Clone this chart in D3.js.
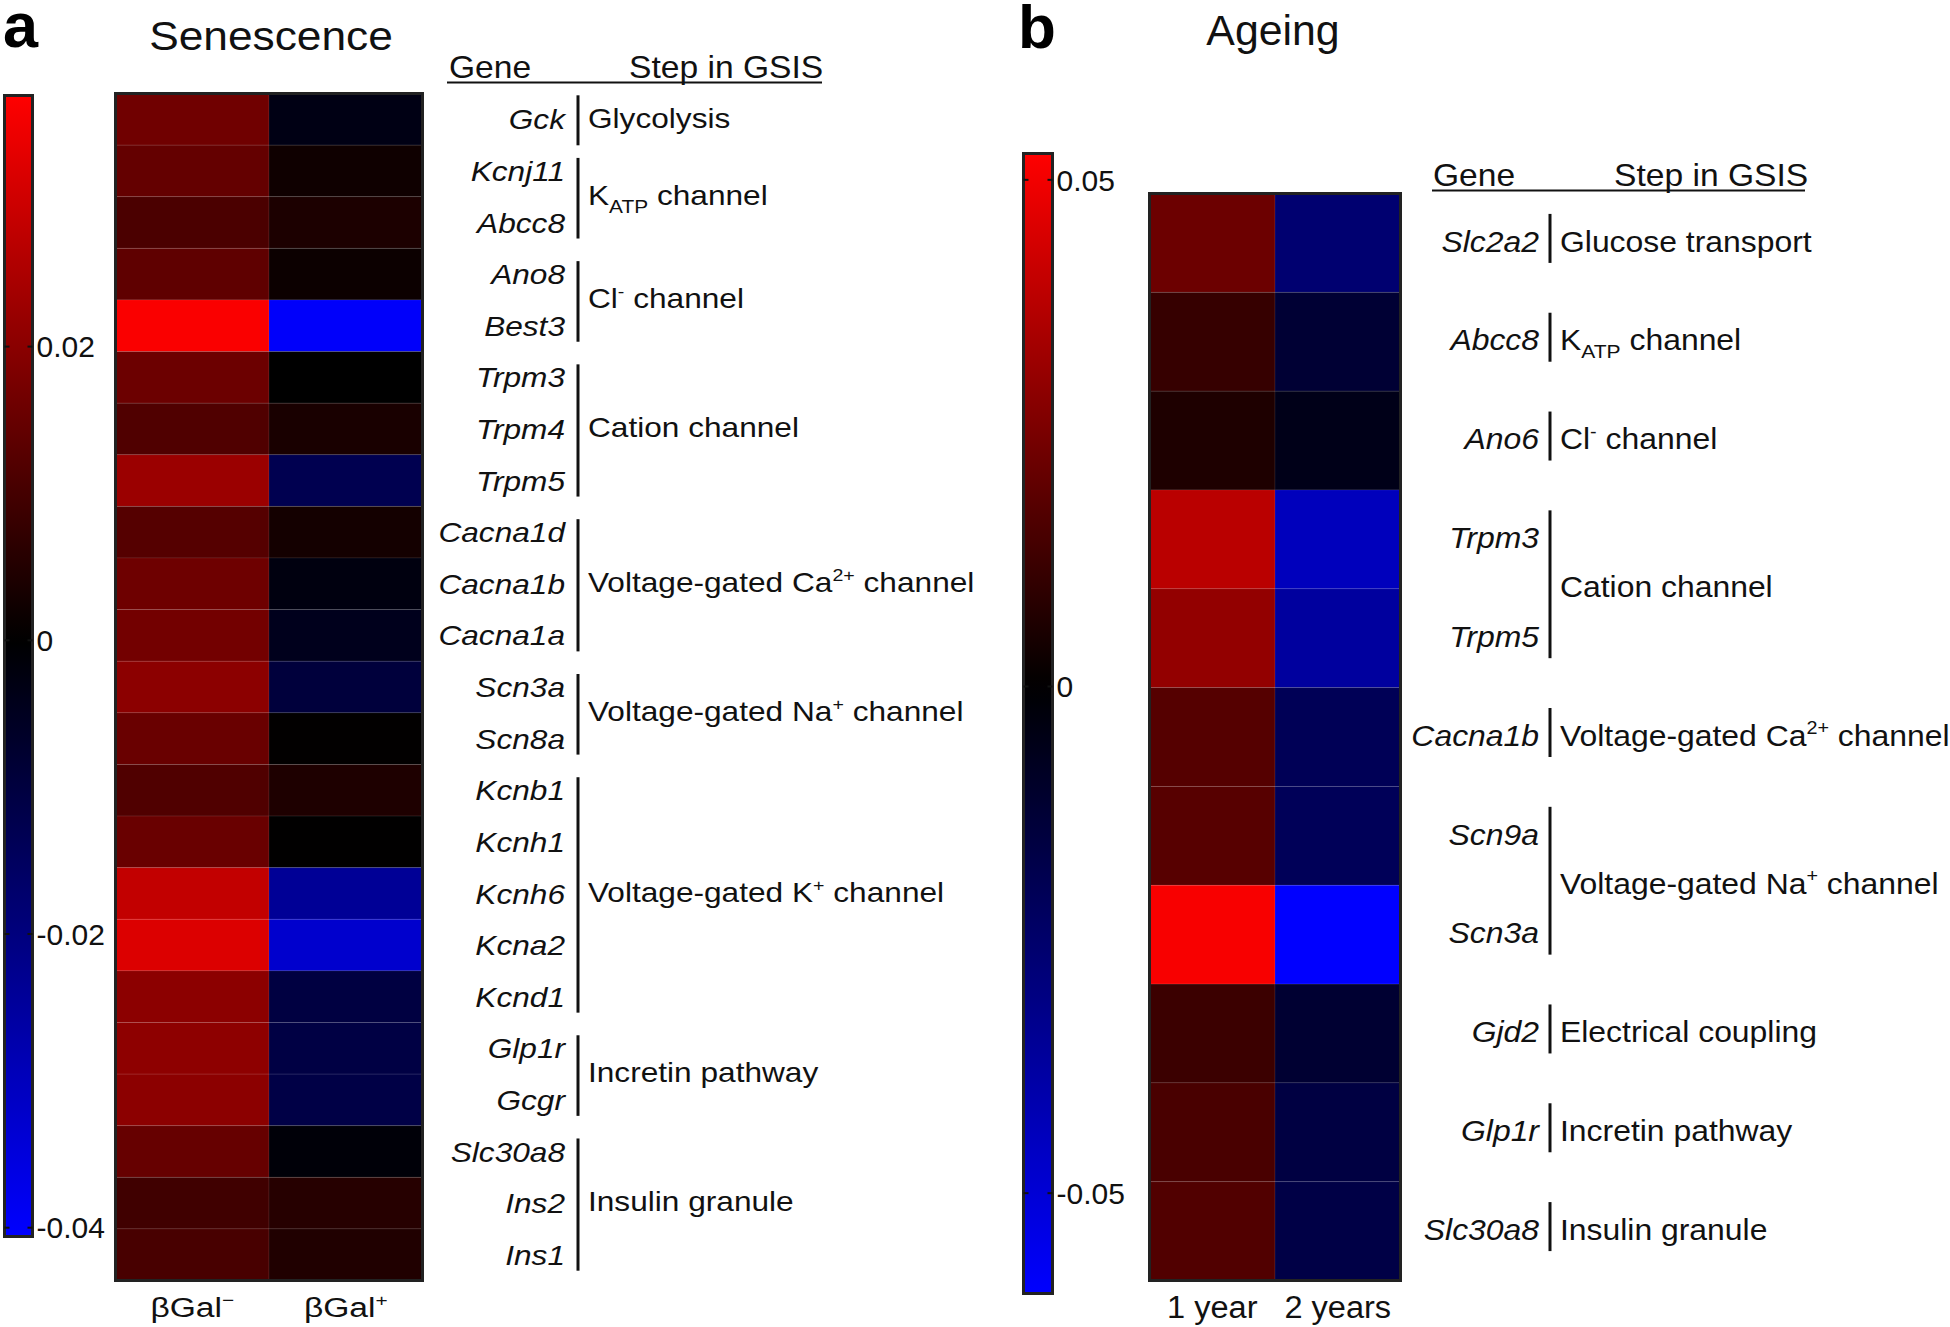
<!DOCTYPE html>
<html><head><meta charset="utf-8">
<script src="https://cdn.jsdelivr.net/npm/d3@7"></script>
<style>
html,body{margin:0;padding:0;background:#fff;}
svg{display:block;font-family:"Liberation Sans",Arial,Helvetica,sans-serif;}
text{white-space:pre;}
</style></head><body>
<svg id="chart" width="1950" height="1327"></svg>
<script>
// ================= DATA: panel a (Senescence) =================
const senGenes = ["Gck","Kcnj11","Abcc8","Ano8","Best3","Trpm3","Trpm4","Trpm5",
  "Cacna1d","Cacna1b","Cacna1a","Scn3a","Scn8a","Kcnb1","Kcnh1","Kcnh6","Kcna2",
  "Kcnd1","Glp1r","Gcgr","Slc30a8","Ins2","Ins1"];
const senColumns = ["βGal^{−}","βGal^{+}"];
const senGalNeg = [0.0163,0.0145,0.0109,0.0138,0.0364,0.0157,0.0116,0.0225,
  0.0124,0.0160,0.0167,0.0204,0.0153,0.0116,0.0153,0.0282,0.0320,
  0.0204,0.0207,0.0204,0.0148,0.0093,0.0105];
const senGalPos = [-0.0032,0.0022,0.0041,0.0017,-0.0398,0.0000,0.0036,-0.0127,
  0.0029,-0.0024,-0.0045,-0.0096,0.0003,0.0044,0.0002,-0.0239,-0.0326,
  -0.0103,-0.0108,-0.0111,-0.0013,0.0055,0.0047];
const senSteps = ["Glycolysis","K_{ATP} channel","Cl^{-} channel","Cation channel",
  "Voltage-gated Ca^{2+} channel","Voltage-gated Na^{+} channel",
  "Voltage-gated K^{+} channel","Incretin pathway","Insulin granule"];
const senStepGenes = [["Gck"],["Kcnj11","Abcc8"],["Ano8","Best3"],["Trpm3","Trpm4","Trpm5"],
  ["Cacna1d","Cacna1b","Cacna1a"],["Scn3a","Scn8a"],["Kcnb1","Kcnh1","Kcnh6","Kcna2","Kcnd1"],
  ["Glp1r","Gcgr"],["Slc30a8","Ins2","Ins1"]];
const senTicks = [0.02, 0, -0.02, -0.04];
const senTickLabels = ["0.02","0","-0.02","-0.04"];
const senExtent = [-0.0406, 0.0371];

// ================= DATA: panel b (Ageing) =================
const ageGenes = ["Slc2a2","Abcc8","Ano6","Trpm3","Trpm5","Cacna1b","Scn9a","Scn3a",
  "Gjd2","Glp1r","Slc30a8"];
const ageColumns = ["1 year","2 years"];
const age1Year = [0.0223,0.0111,0.0062,0.0384,0.0303,0.0175,0.0179,0.0512,0.0122,0.0151,0.0167];
const age2Years = [-0.0263,-0.0122,-0.0056,-0.0442,-0.0371,-0.0202,-0.0207,-0.0599,-0.0117,-0.0155,-0.0164];
const ageSteps = ["Glucose transport","K_{ATP} channel","Cl^{-} channel","Cation channel",
  "Voltage-gated Ca^{2+} channel","Voltage-gated Na^{+} channel","Electrical coupling",
  "Incretin pathway","Insulin granule"];
const ageStepGenes = [["Slc2a2"],["Abcc8"],["Ano6"],["Trpm3","Trpm5"],["Cacna1b"],
  ["Scn9a","Scn3a"],["Gjd2"],["Glp1r"],["Slc30a8"]];
const ageTicks = [0.05, 0, -0.05];
const ageTickLabels = ["0.05","0","-0.05"];
const ageExtent = [-0.0599, 0.0526];

// ================= helpers =================
const svg = d3.select("#chart");
const defs = svg.append("defs");

function richText(sel, str, fs) {
  const parts = str.split(/(\^\{[^}]*\}|_\{[^}]*\})/g).filter(s => s.length);
  let shift = 0;
  parts.forEach(p => {
    let kind = null, t = p;
    if (p.startsWith("^{")) { kind = "sup"; t = p.slice(2, -1); }
    else if (p.startsWith("_{")) { kind = "sub"; t = p.slice(2, -1); }
    const target = kind === "sup" ? -0.4 * fs : kind === "sub" ? 0.27 * fs : 0;
    const ts = sel.append("tspan").text(t).attr("dy", target - shift);
    if (kind) ts.attr("font-size", (kind === "sup" ? 0.62 : 0.66) * fs);
    shift = target;
  });
}

// text horizontally stretched by sx (the reference's labels are slightly wide)
function stretched(x, y, fs, anchor, sx) {
  return svg.append("text").attr("transform", `translate(${x},${y}) scale(${sx},1)`)
    .attr("text-anchor", anchor).attr("font-size", fs).attr("fill", "#111");
}

function makeColor(ext) {
  return d3.scaleLinear().domain([ext[0], 0, ext[1]])
    .range(["#0000ff", "#000000", "#ff0000"]).clamp(true);
}

function colorbar(id, x0, x1, y0, y1, ext, ticks, labels, color) {
  const grad = defs.append("linearGradient").attr("id", id)
    .attr("x1", 0).attr("y1", 1).attr("x2", 0).attr("y2", 0);
  d3.range(0, 1.0001, 0.02).forEach(t => {
    const v = ext[0] + t * (ext[1] - ext[0]);
    grad.append("stop").attr("offset", t).attr("stop-color", color(v));
  });
  const yS = d3.scaleLinear().domain(ext).range([y1, y0]);
  svg.append("rect").attr("x", x0).attr("y", y0).attr("width", x1 - x0).attr("height", y1 - y0)
    .attr("fill", `url(#${id})`).attr("stroke", "#222").attr("stroke-width", 3);
  const g = svg.append("g");
  ticks.forEach((t, i) => {
    const y = yS(t);
    g.append("line").attr("x1", x0).attr("x2", x0 + 5).attr("y1", y).attr("y2", y)
      .attr("stroke", "#111").attr("stroke-width", 2);
    g.append("line").attr("x1", x1 - 5).attr("x2", x1).attr("y1", y).attr("y2", y)
      .attr("stroke", "#111").attr("stroke-width", 2);
    g.append("text").attr("x", x1 + 4).attr("y", y).attr("dy", "0.36em")
      .attr("font-size", 30).attr("fill", "#111").text(labels[i]);
  });
}

function heatmap(genes, cols, series, x0, x1, y0, y1, color) {
  const yB = d3.scaleBand().domain(genes).range([y0, y1]);
  const xB = d3.scaleBand().domain(cols).range([x0, x1]);
  const g = svg.append("g");
  cols.forEach((c, ci) => {
    g.selectAll(null).data(genes).join("rect")
      .attr("x", xB(c)).attr("y", d => yB(d))
      .attr("width", xB.bandwidth()).attr("height", yB.bandwidth())
      .attr("fill", (d, i) => color(series[ci][i]))
      .attr("stroke", "rgba(255,255,255,0.07)").attr("stroke-width", 1);
  });
  g.append("rect").attr("x", x0).attr("y", y0).attr("width", x1 - x0).attr("height", y1 - y0)
    .attr("fill", "none").attr("stroke", "#222").attr("stroke-width", 3);
  return { yB, xB };
}

// ================= panel a =================
svg.append("text").attr("x", 3).attr("y", 47).attr("font-size", 63).attr("font-weight", "bold")
  .attr("fill", "#000").text("a");
stretched(271, 50, 41, "middle", 1.08).text("Senescence");

const senColor = makeColor(senExtent);
colorbar("gradA", 4.5, 32.5, 95.5, 1236.5, senExtent, senTicks, senTickLabels, senColor);
const hmA = heatmap(senGenes, senColumns, [senGalNeg, senGalPos], 115.5, 422.5, 93.5, 1280.5, senColor);

senColumns.forEach(c => {
  const t = stretched(hmA.xB(c) + hmA.xB.bandwidth() / 2, 1317, 28, "middle", 1.2);
  richText(t, c, 28);
});

// table header a
stretched(449, 78, 32, "start", 1.05).text("Gene");
stretched(629, 78, 32, "start", 1.05).text("Step in GSIS");
svg.append("line").attr("x1", 447).attr("x2", 822).attr("y1", 82.5).attr("y2", 82.5)
  .attr("stroke", "#111").attr("stroke-width", 2);

const aFs = 28, aSx = 1.13;
const rowA = g => hmA.yB(g) + hmA.yB.bandwidth() / 2;
senGenes.forEach(gname => {
  stretched(565, rowA(gname) + 0.36 * aFs, aFs, "end", aSx).attr("font-style", "italic").text(gname);
});
senSteps.forEach((s, i) => {
  const gs = senStepGenes[i];
  const top = rowA(gs[0]), bot = rowA(gs[gs.length - 1]);
  const single = gs.length === 1;
  svg.append("line").attr("x1", 578).attr("x2", 578)
    .attr("y1", top - (single ? 24 : 13)).attr("y2", bot + (single ? 26 : 16))
    .attr("stroke", "#111").attr("stroke-width", 3);
  const t = stretched(588, (top + bot) / 2 + 0.3 * aFs, aFs, "start", aSx);
  richText(t, s, aFs);
});

// ================= panel b =================
svg.append("text").attr("x", 1018).attr("y", 48).attr("font-size", 62).attr("font-weight", "bold")
  .attr("fill", "#000").text("b");
stretched(1273, 45, 42, "middle", 1.02).text("Ageing");

const ageColor = makeColor(ageExtent);
colorbar("gradB", 1023.5, 1052.5, 153.5, 1293.5, ageExtent, ageTicks, ageTickLabels, ageColor);
const hmB = heatmap(ageGenes, ageColumns, [age1Year, age2Years], 1149.5, 1400.5, 193.5, 1280.5, ageColor);

ageColumns.forEach(c => {
  stretched(hmB.xB(c) + hmB.xB.bandwidth() / 2, 1318, 31, "middle", 1.05).text(c);
});

// table header b
stretched(1433, 186, 32, "start", 1.05).text("Gene");
stretched(1614, 186, 32, "start", 1.05).text("Step in GSIS");
svg.append("line").attr("x1", 1432).attr("x2", 1805).attr("y1", 190.5).attr("y2", 190.5)
  .attr("stroke", "#111").attr("stroke-width", 2);

const bFs = 29, bSx = 1.1;
const rowB = g => hmB.yB(g) + hmB.yB.bandwidth() / 2;
ageGenes.forEach(gname => {
  stretched(1539, rowB(gname) + 0.3 * bFs, bFs, "end", bSx).attr("font-style", "italic").text(gname);
});
ageSteps.forEach((s, i) => {
  const gs = ageStepGenes[i];
  const top = rowB(gs[0]), bot = rowB(gs[gs.length - 1]);
  svg.append("line").attr("x1", 1550).attr("x2", 1550)
    .attr("y1", top - 29).attr("y2", bot + 20)
    .attr("stroke", "#111").attr("stroke-width", 3);
  const t = stretched(1560, (top + bot) / 2 + 0.3 * bFs, bFs, "start", bSx);
  richText(t, s, bFs);
});
</script>
</body></html>
